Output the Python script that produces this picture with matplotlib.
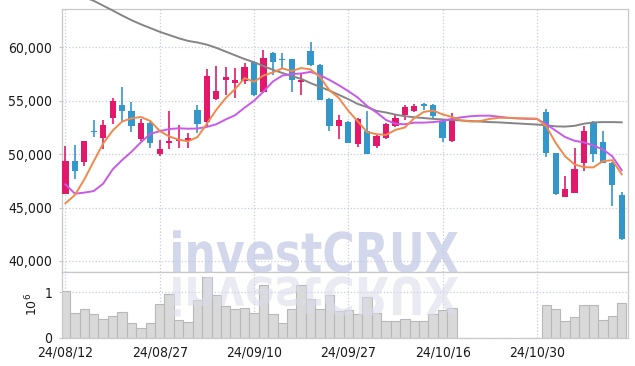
import matplotlib
matplotlib.use('Agg')
import matplotlib.pyplot as plt
import numpy as np
from matplotlib.textpath import TextPath
from matplotlib.patches import PathPatch
from matplotlib.font_manager import FontProperties, findfont
from matplotlib.transforms import Affine2D, IdentityTransform
from matplotlib.ticker import FuncFormatter

# 取引日 (24/08/12 - 24/11/12)
dates = ['24/08/12', '24/08/13', '24/08/14', '24/08/16', '24/08/19', '24/08/20', '24/08/21',
         '24/08/22', '24/08/23', '24/08/26', '24/08/27', '24/08/28', '24/08/29', '24/08/30',
         '24/09/02', '24/09/03', '24/09/04', '24/09/05', '24/09/06', '24/09/09', '24/09/10',
         '24/09/11', '24/09/12', '24/09/13', '24/09/19', '24/09/20', '24/09/23', '24/09/24',
         '24/09/25', '24/09/26', '24/09/27', '24/09/30', '24/10/02', '24/10/04', '24/10/07',
         '24/10/08', '24/10/10', '24/10/11', '24/10/14', '24/10/15', '24/10/16', '24/10/17',
         '24/10/18', '24/10/21', '24/10/22', '24/10/23', '24/10/24', '24/10/25', '24/10/28',
         '24/10/29', '24/10/30', '24/10/31', '24/11/01', '24/11/04', '24/11/05', '24/11/06',
         '24/11/07', '24/11/08', '24/11/11', '24/11/12']

N = None  # データなし
opens = [46300, 49400, 49300, 52150, 51500, 53350, 54600, 54050, 51400, 52950,
         50050, 51050, 51200, 51270, 54150, 52980, 55180, 56950, 56650, 56800,
         58650, 55800, 59440, 58900, 58900, 56770, 59650, 58350, 55180, 52670,
         53040, 50960, 52200, 50740, 51530, 52610, 53700, 54000, 54620, 54630,
         53070, 51210, N, N, N, N, N, N, N, N,
         N, 53940, 50120, 46030, 46400, 49190, 52980, 51180, 49190, 46150]
highs = [50800, 50850, 51250, 53200, 53200, 55250, 56300, 54900, 53300, 53000,
         51350, 54000, 52750, 52000, 54600, 57950, 58250, 58150, 58100, 58550,
         58700, 59750, 59600, 59440, 58950, 57500, 60450, 58400, 55250, 53630,
         53100, 53350, 54040, 51800, 52900, 53790, 54560, 54690, 54810, 54700,
         53100, 53850, N, N, N, N, N, N, N, N,
         N, 54230, 50150, 47950, 50620, 52600, 53100, 52120, 49250, 46460]
lows = [46300, 47650, 48900, 51600, 50450, 52850, 53050, 52100, 51200, 50600,
        49800, 50450, 50550, 50600, 52000, 52550, 55100, 55550, 55300, 56600,
        55450, 55700, 57420, 58100, 55850, 55550, 58250, 55050, 52200, 51460,
        51000, 50680, 50000, 50550, 51450, 52550, 53170, 53950, 54160, 53350,
        51180, 51150, N, N, N, N, N, N, N, N,
        N, 49750, 46200, 46000, 46350, 48410, 49290, 49150, 45150, 41980]
closes = [49400, 48400, 51200, 52050, 52700, 55000, 54050, 52600, 52950, 51000,
          50450, 51250, 51380, 51480, 52850, 57330, 55930, 57200, 56950, 58200,
          55500, 58970, 58660, 58850, 56900, 56950, 58300, 55100, 52670, 53230,
          51020, 53320, 50060, 51740, 52860, 53390, 54410, 54530, 54550, 53540,
          51530, 53230, N, N, N, N, N, N, N, N,
          N, 50120, 46240, 46710, 48570, 52200, 50060, 49190, 47100, 42050]
# 出来高 (百万株)
volumes = [1.03, 0.535, 0.62, 0.51, 0.42, 0.47, 0.555, 0.31, 0.20, 0.33,
           0.74, 0.96, 0.38, 0.34, 0.83, 1.34, 0.93, 0.70, 0.63, 0.66,
           0.55, 1.17, 0.53, 0.33, 0.63, 1.17, 0.86, 0.64, 0.94, 0.58,
           0.60, 0.51, 0.89, 0.55, 0.37, 0.37, 0.40, 0.355, 0.355, 0.53,
           0.61, 0.65, N, N, N, N, N, N, N, N,
           N, 0.71, 0.63, 0.36, 0.45, 0.71, 0.71, 0.38, 0.47, 0.76]

# 移動平均線
ma_short = [45400, 46180, 47640, 49340, 51000, 52200, 53050, 53350, 53480, 53100,
            52170, 51660, 51360, 51200, 51600, 52850, 54150, 55250, 56100, 57120,
            56770, 57360, 57650, 58030, 57780, 58060, 57930, 57220, 55980, 55250,
            54060, 53070, 52060, 51870, 51800, 52270, 52500, 53380, 53950, 54080,
            53720, 53480, 53150, 53050, 53100, 53300, 53400, 53400, 53350, 53350,
            53320, 52600, 51050, 49800, 49040, 48780, 48760, 49350, 49430, 48120]
ma_mid = [47170, 46300, 46400, 46550, 47240, 48570, 49440, 50220, 51110, 51900,
          52150, 52350, 52420, 52380, 52400, 52550, 52800, 53250, 53650, 54350,
          55000, 55850, 56800, 57350, 57500, 57550, 57700, 57400, 56950, 56450,
          55900, 55300, 54500, 53900, 53200, 52850, 52800, 52950, 52950, 53000,
          53100, 53300, 53450, 53550, 53600, 53600, 53500, 53400, 53350, 53300,
          53300, 52800, 52200, 51600, 51250, 51100, 50800, 50450, 49800, 48500]
ma_long = [65400, 65050, 64700, 64350, 63900, 63450, 62980, 62540, 62150, 61800,
           61450, 61150, 60850, 60600, 60450, 60250, 59950, 59600, 59250, 58900,
           58600, 58250, 57900, 57600, 57300, 57050, 56650, 56300, 55950, 55550,
           55150, 54700, 54400, 54050, 53900, 53700, 53550, 53450, 53380, 53300,
           53250, 53200, 53150, 53100, 53050, 53000, 52970, 52920, 52870, 52820,
           52770, 52700, 52600, 52580, 52650, 52850, 52970, 53000, 53000, 52980]

price_ticks = [40000, 45000, 50000, 55000, 60000]
date_step = 10

UP = '#e2196b'
DOWN = '#3497cb'
GRID = '#c7cce0'
SPINE = '#c8c8c8'
TXT = '#1a1a1a'

# 細めのフォントがあれば使う
tick_prop = FontProperties(family='DejaVu Sans', stretch='condensed', size=10)
if 'Condensed' not in findfont(tick_prop):
    tick_prop = FontProperties(family='DejaVu Sans', size=9)

W, H = 635, 366
fig = plt.figure(figsize=(W / 100, H / 100), dpi=100)
ax = fig.add_axes([62 / W, 1 - 272 / H, 566 / W, 263 / H])
axv = fig.add_axes([62 / W, 1 - 337.5 / H, 566 / W, 65.5 / H], sharex=ax)

x = np.arange(len(dates))
o = np.array(opens, dtype=float)
h = np.array(highs, dtype=float)
l = np.array(lows, dtype=float)
c = np.array(closes, dtype=float)
v = np.array(volumes, dtype=float)
ok = ~np.isnan(o)

cols = np.where(c >= o, UP, DOWN)
body_h = np.maximum(np.abs(c - o), 140)
body_b = (o + c) / 2 - body_h / 2

ax.vlines(x[ok], l[ok], h[ok], colors=cols[ok], lw=1.2, zorder=3)
ax.bar(x[ok], body_h[ok], bottom=body_b[ok], width=0.66, color=cols[ok], lw=0, zorder=3)

ax.plot(x, ma_long, color='#858585', lw=1.4, zorder=4, clip_on=False)
ax.plot(x, ma_mid, color='#c95ae8', lw=1.4, zorder=4)
ax.plot(x, ma_short, color='#f08a4c', lw=1.4, zorder=4)

ax.set_xlim(-0.37, 59.67)
ax.set_ylim(38970, 63585)
ax.set_yticks(price_ticks)
ax.yaxis.set_major_formatter(FuncFormatter(lambda val, pos: f'{val:,.0f}'))
ax.grid(True, ls=':', color=GRID, lw=0.9)
ax.set_axisbelow(True)
ax.tick_params(axis='x', labelbottom=False, length=0)
ax.tick_params(axis='y', length=2, color=SPINE, pad=5, labelcolor=TXT)
for lab in ax.get_yticklabels():
    lab.set_fontproperties(tick_prop)
for s in ax.spines.values():
    s.set_color(SPINE)
    s.set_linewidth(0.9)

axv.bar(x[ok], v[ok], width=1.0, color='#d9d9d9', edgecolor='#b8b8b8', lw=0.8, zorder=2)
axv.set_ylim(0, 1.45)
axv.set_yticks([0, 1])
axv.set_yticklabels(['0', '1'])
axv.set_xticks(x[::date_step])
axv.set_xticklabels(dates[::date_step])
axv.grid(True, ls=':', color=GRID, lw=0.9)
axv.set_axisbelow(True)
axv.tick_params(axis='x', length=0, pad=5.5, labelcolor=TXT)
axv.tick_params(axis='y', length=2, color=SPINE, pad=5, labelcolor=TXT)
for lab in axv.get_xticklabels() + axv.get_yticklabels():
    lab.set_fontproperties(tick_prop)
axv.set_ylabel('$10^6$', fontsize=9, color=TXT, labelpad=3)
for s in axv.spines.values():
    s.set_color(SPINE)
    s.set_linewidth(0.9)

# 透かし文字 (鏡像付き)
tp = TextPath((0, 0), 'investCRUX', size=100, prop=FontProperties(family='DejaVu Sans', weight='bold'))
ext = tp.get_extents()
sx = 285 / ext.width
sy = 40 / 72.9
x0 = 173 - ext.x0 * sx
main = Affine2D().scale(sx, sy).translate(x0, H - 272)
refl = Affine2D().scale(sx, -sy * 0.95).translate(x0, H - 277)
fig.add_artist(PathPatch(main.transform_path(tp), transform=IdentityTransform(),
                         color='#c3cae6', alpha=0.75, lw=0, zorder=10))
fig.add_artist(PathPatch(refl.transform_path(tp), transform=IdentityTransform(),
                         color='#dcdcec', alpha=0.6, lw=0, zorder=10))

fig.savefig('out.png', dpi=100)
